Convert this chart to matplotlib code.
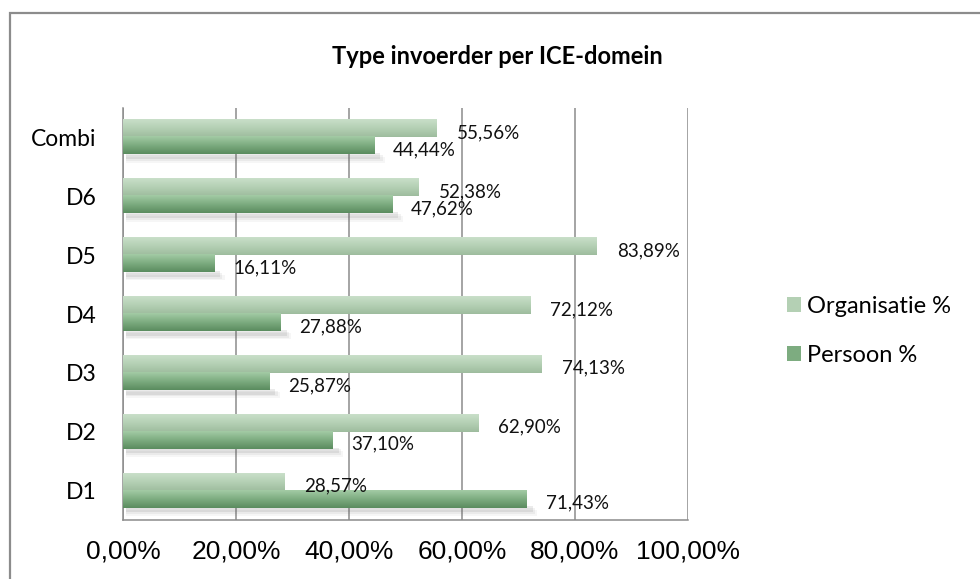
import numpy as np
import matplotlib
matplotlib.use("Agg")
import matplotlib.pyplot as plt
from matplotlib.colors import LinearSegmentedColormap
from matplotlib.patches import Rectangle, Patch

# data (percent)
categories = ["D1", "D2", "D3", "D4", "D5", "D6", "Combi"]
organisatie = [28.57, 62.90, 74.13, 72.12, 83.89, 52.38, 55.56]
persoon = [71.43, 37.10, 25.87, 27.88, 16.11, 47.62, 44.44]
series_names = ["Organisatie %", "Persoon %"]
xticks = [0, 20, 40, 60, 80, 100]

plt.rcParams['font.family'] = ['Lato', 'DejaVu Sans']

fig = plt.figure(figsize=(9.8, 5.79), dpi=100)
ax = fig.add_axes([123/980, 1 - 520/579, 565/980, 412/579])

light_cm = LinearSegmentedColormap.from_list("light", ["#c9dfc9", "#b4d0b4", "#9ebc9e"])
dark_cm = LinearSegmentedColormap.from_list("dark", ["#a3cba5", "#7dac80", "#5a8c5f"])
grad = np.linspace(0, 1, 64).reshape(-1, 1)

bh = 0.29
for i in range(len(categories)):
    # soft drop shadow under the pair
    for k, a in enumerate([0.12, 0.08, 0.05]):
        ax.barh(i - bh - 0.03 - k * 0.03, persoon[i] + 0.6 + k * 0.4, height=0.1,
                left=0.5, color="#606060", alpha=a, lw=0, zorder=1)
    ax.imshow(grad, cmap=light_cm, aspect='auto', zorder=3,
              extent=[0, organisatie[i], i, i + bh])
    ax.imshow(grad, cmap=dark_cm, aspect='auto', zorder=3,
              extent=[0, persoon[i], i - bh, i])
    ax.annotate(f"{organisatie[i]:.2f}%".replace('.', ','), (organisatie[i], i + bh / 2),
                xytext=(20, -4), textcoords='offset pixels', ha='left', va='center',
                fontsize=13.5, color='#111111', zorder=5)
    ax.annotate(f"{persoon[i]:.2f}%".replace('.', ','), (persoon[i], i - bh / 2),
                xytext=(19, -4), textcoords='offset pixels', ha='left', va='center',
                fontsize=13.5, color='#111111', zorder=5)

ax.set_xlim(0, 100)
ax.set_ylim(-0.5, len(categories) - 0.5)
ax.set_yticks(range(len(categories)))
ax.set_yticklabels(categories, fontsize=16.5)
ax.set_xticks(xticks)
ax.set_xticklabels([f"{t:.2f}%".replace('.', ',') for t in xticks],
                   fontsize=19, family='Liberation Sans')
ax.tick_params(axis='both', length=0)
ax.tick_params(axis='x', pad=14)
ax.tick_params(axis='y', pad=19)
ax.grid(axis='x', color='#8c8c8c', lw=1.1, zorder=0)
ax.set_axisbelow(True)
for s in ['top', 'right']:
    ax.spines[s].set_visible(False)
for s in ['left', 'bottom']:
    ax.spines[s].set_color('#8c8c8c')
    ax.spines[s].set_linewidth(1.1)

fig.text(497/980, 1 - 57/579, "Type invoerder per ICE-domein", ha='center', va='center',
         fontsize=17, fontweight='bold')

handles = [Patch(facecolor="#b4d0b4", edgecolor='none'),
           Patch(facecolor="#7dac80", edgecolor='none')]
ax.legend(handles, series_names, loc='center left', frameon=False,
          bbox_to_anchor=(766/980, 1 - 331/579), bbox_transform=fig.transFigure,
          fontsize=17, handlelength=0.6, handleheight=0.6, handletextpad=0.25,
          labelspacing=1.2)

fig.patches.append(Rectangle((10/980, -0.2), 1.5, 1.2 - 13/579, transform=fig.transFigure,
                             fill=False, edgecolor='#8c8c8c', lw=1.6))

fig.savefig("out.png", dpi=100)
